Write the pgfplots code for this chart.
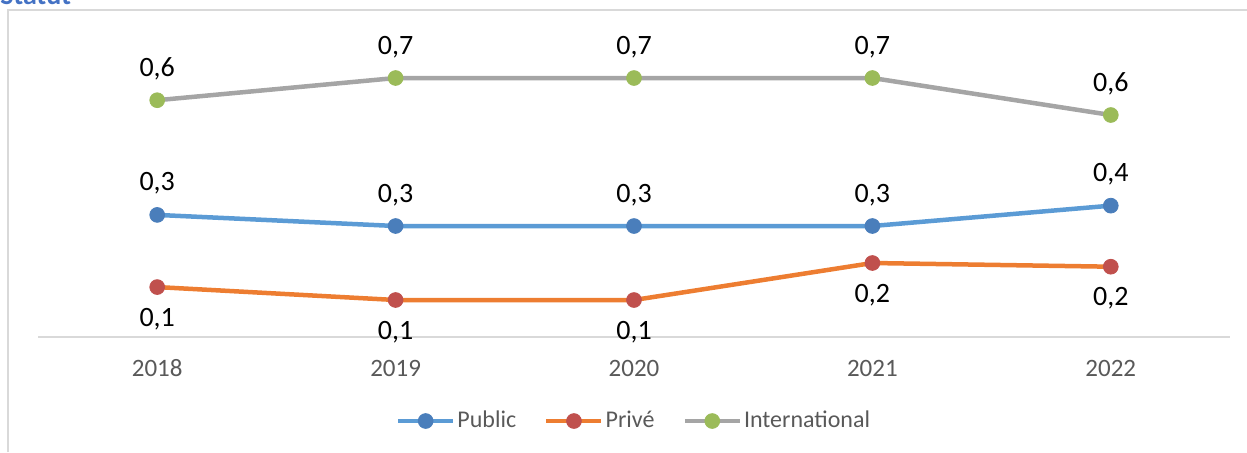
\documentclass[border=0pt]{standalone}
\usepackage{fontspec}
\setmainfont{Carlito}
\usepackage{pgfplots}
\pgfplotsset{compat=1.18}
\definecolor{publine}{HTML}{5B9BD5}
\definecolor{pubmark}{HTML}{4A7EBB}
\definecolor{prvline}{HTML}{ED7D31}
\definecolor{prvmark}{HTML}{C0504D}
\definecolor{intline}{HTML}{A5A5A5}
\definecolor{intmark}{HTML}{9BBB59}
\definecolor{framegray}{HTML}{D9D9D9}
\definecolor{txtgray}{HTML}{595959}
\definecolor{titleblue}{HTML}{4472C4}

\begin{document}
\begin{tikzpicture}
\useasboundingbox (0,0) rectangle (623.5pt,-226pt);
% chart frame (right and bottom edges are cut off in the source)
\draw[framegray, line width=1pt] (4pt,-226pt) -- (4pt,-5pt) -- (623.5pt,-5pt);
\node[anchor=base west, font=\bfseries\fontsize{14}{16}\selectfont, text=titleblue, inner sep=0] at (0pt,-2pt) {Statut};
\begin{axis}[
  at={(19pt,-168.5pt)}, anchor=south west,
  scale only axis, width=596pt, height=148pt,
  xmin=-0.5, xmax=4.5, ymin=0, ymax=0.8,
  clip=false,
  axis x line*=bottom, axis y line=none,
  x axis line style={framegray, line width=0.8pt, -},
  xtick={0,...,4}, xticklabels={2018,2019,2020,2021,2022},
  major tick length=0pt,
  xticklabel style={anchor=base, yshift=-19.5pt, font=\fontsize{12.5}{14}\selectfont, text=txtgray},
  nodes near coords,
  nodes near coords style={font=\fontsize{14}{16}\selectfont, text=black, inner sep=0pt},
  /pgf/number format/.cd, fixed, fixed zerofill, precision=1, use comma, assume math mode=true,
  /pgfplots/.cd,
  legend style={at={(0.5,0)}, anchor=center, yshift=-42pt, draw=none, fill=none,
    legend columns=3, font=\fontsize{12}{14}\selectfont, text=txtgray,
    /tikz/every even column/.append style={column sep=13pt},
    nodes={inner sep=1pt}},
  legend image code/.code={\draw[mark repeat=2, mark phase=2, #1] plot coordinates {(0pt,0pt) (13.75pt,0pt) (27.5pt,0pt)};},
]
\addplot[color=publine, line width=2.25pt, mark=*, mark size=3.7pt,
  mark options={solid, draw=pubmark, fill=pubmark, line width=0.4pt},
  every node near coord/.append style={anchor=base, yshift=12pt}]
  coordinates {(0,0.33) (1,0.30) (2,0.30) (3,0.30) (4,0.355)};
\addlegendentry{Public}
\addplot[color=prvline, line width=2.25pt, mark=*, mark size=3.7pt,
  mark options={solid, draw=prvmark, fill=prvmark, line width=0.4pt},
  every node near coord/.append style={anchor=base, yshift=-19.5pt}]
  coordinates {(0,0.135) (1,0.10) (2,0.10) (3,0.20) (4,0.19)};
\addlegendentry{Privé}
\addplot[color=intline, line width=2.25pt, mark=*, mark size=3.7pt,
  mark options={solid, draw=intmark, fill=intmark, line width=0.4pt},
  every node near coord/.append style={anchor=base, yshift=12pt}]
  coordinates {(0,0.64) (1,0.70) (2,0.70) (3,0.70) (4,0.60)};
\addlegendentry{International}
\end{axis}
\end{tikzpicture}
\end{document}
